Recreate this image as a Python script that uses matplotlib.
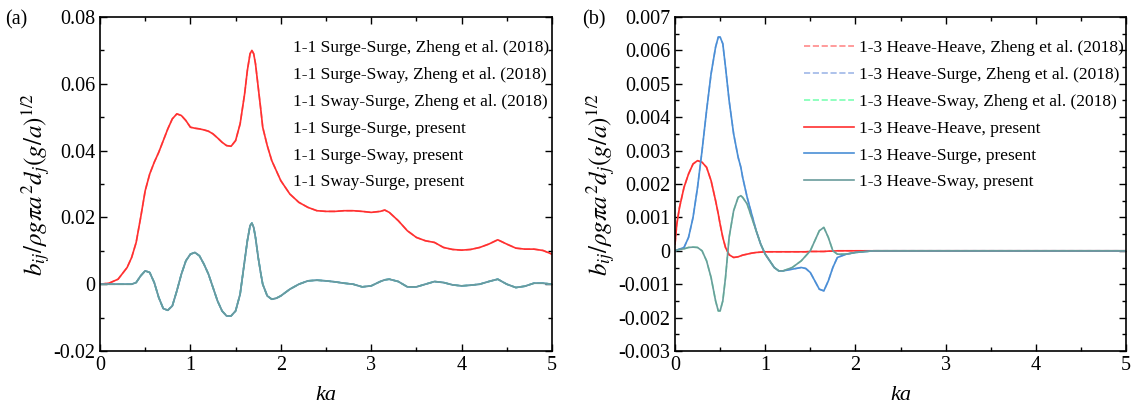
import matplotlib
matplotlib.use("Agg")
import matplotlib.pyplot as plt
from matplotlib.ticker import MultipleLocator, FuncFormatter

plt.rcParams['font.family'] = ['Liberation Serif', 'DejaVu Serif']
plt.rcParams['mathtext.fontset'] = 'stix'

# ---- (a) 1-1 surge / sway damping ----
ka_a = [0.0, 0.1, 0.2, 0.3, 0.35, 0.4, 0.45, 0.5, 0.55, 0.6, 0.65, 0.7, 0.75, 0.8, 0.85,
        0.9, 0.95, 1.0, 1.05, 1.1, 1.15, 1.2, 1.25, 1.3, 1.35, 1.4, 1.45, 1.5, 1.55, 1.6,
        1.63, 1.66, 1.68, 1.7, 1.72, 1.75, 1.78, 1.8, 1.85, 1.9, 1.95, 2.0, 2.1, 2.2, 2.3,
        2.4, 2.5, 2.6, 2.7, 2.8, 2.9, 3.0, 3.1, 3.15, 3.2, 3.3, 3.4, 3.5, 3.6, 3.7, 3.8,
        3.9, 4.0, 4.1, 4.2, 4.3, 4.4, 4.5, 4.6, 4.7, 4.8, 4.9, 5.0]
surge_surge = [0.0, 0.0003, 0.0015, 0.005, 0.008, 0.0125, 0.020, 0.028, 0.033, 0.0365, 0.0395,
               0.043, 0.0465, 0.0495, 0.051, 0.0505, 0.049, 0.047, 0.0467, 0.0465, 0.0462,
               0.0458, 0.045, 0.0438, 0.0425, 0.0415, 0.0413, 0.043, 0.048, 0.057, 0.064,
               0.069, 0.070, 0.069, 0.066, 0.059, 0.052, 0.047, 0.0415, 0.037, 0.034, 0.031,
               0.027, 0.0245, 0.023, 0.022, 0.0218, 0.0218, 0.022, 0.022, 0.0218, 0.0215,
               0.0218, 0.0222, 0.0215, 0.019, 0.016, 0.014, 0.013, 0.0125, 0.011, 0.0104,
               0.0102, 0.0104, 0.011, 0.012, 0.0133, 0.012, 0.0108, 0.0105, 0.0105, 0.0101,
               0.009]
surge_sway = [0.0, 0.0, 0.0, 0.0, 0.0, 0.0005, 0.0025, 0.004, 0.0035, 0.0005, -0.004,
              -0.0073, -0.0078, -0.0065, -0.002, 0.003, 0.007, 0.009, 0.0095, 0.0085, 0.006,
              0.003, -0.001, -0.005, -0.008, -0.0095, -0.0095, -0.008, -0.003, 0.007, 0.013,
              0.0175, 0.0183, 0.017, 0.014, 0.008, 0.003, 0.0, -0.0035, -0.0045, -0.0042,
              -0.0035, -0.0015, 0.0, 0.001, 0.0012, 0.001, 0.0007, 0.0003, 0.0, -0.0008,
              -0.0005, 0.0008, 0.0013, 0.0015, 0.0008, -0.0008, -0.0008, 0.0, 0.0008, 0.0005,
              -0.0002, -0.0005, -0.0003, 0.0, 0.0008, 0.0015, 0.0, -0.001, -0.0006, 0.0003,
              0.0003, 0.0]
sway_surge = surge_sway

labels_a = ['1-1 Surge-Surge, Zheng et al. (2018)', '1-1 Surge-Sway, Zheng et al. (2018)',
            '1-1 Sway-Surge, Zheng et al. (2018)', '1-1 Surge-Surge, present',
            '1-1 Surge-Sway, present', '1-1 Sway-Surge, present']

# ---- (b) 1-3 heave coupling damping ----
ka_b = [0.0, 0.02, 0.05, 0.1, 0.15, 0.2, 0.25, 0.3, 0.35, 0.4, 0.45, 0.48, 0.5, 0.53, 0.56,
        0.6, 0.65, 0.7, 0.73, 0.75, 0.8, 0.85, 0.9, 0.95, 1.0, 1.05, 1.1, 1.15, 1.2, 1.3,
        1.4, 1.45, 1.5, 1.55, 1.6, 1.65, 1.7, 1.75, 1.8, 1.9, 2.0, 2.2, 2.5, 3.0, 4.0, 5.0]
heave_heave = [0.0002, 0.0008, 0.0013, 0.0019, 0.0023, 0.0026, 0.0027, 0.00265, 0.0025,
               0.0021, 0.0015, 0.0011, 0.0008, 0.0004, 0.0001, -0.00012, -0.0002, -0.00018,
               -0.00015, -0.00013, -0.0001, -0.00007, -0.00005, -0.00004, -0.00003, -0.00003,
               -0.00003, -0.00003, -0.00003, -0.00003, -0.00003, -0.00003, -0.00002, -0.00002,
               -0.00002, -0.00002, -0.00001, -0.00001, 0.0, 0.0, 0.0, 0.0, 0.0, 0.0, 0.0, 0.0]
heave_surge = [0.0, 0.00002, 0.00005, 0.0001, 0.0004, 0.001, 0.0019, 0.003, 0.0042, 0.0053,
               0.0061, 0.0064, 0.0064, 0.0062, 0.0055, 0.0045, 0.0035, 0.0028, 0.0025,
               0.0022, 0.0016, 0.0011, 0.0006, 0.0002, -0.0001, -0.0003, -0.0005, -0.0006,
               -0.0006, -0.00055, -0.0005, -0.00053, -0.00065, -0.0009, -0.00115, -0.0012,
               -0.0009, -0.0005, -0.0002, -0.0001, -0.00005, 0.0, 0.0, 0.0, 0.0, 0.0]
heave_sway = [0.0, 0.00002, 0.00004, 0.00006, 0.0001, 0.00011, 0.0001, 0.0, -0.0003, -0.0008,
              -0.0015, -0.0018, -0.0018, -0.0015, -0.0008, 0.0004, 0.0012, 0.0016, 0.00165,
              0.0016, 0.0014, 0.001, 0.0006, 0.0002, -0.0001, -0.0003, -0.0005, -0.0006,
              -0.0006, -0.0005, -0.0003, -0.00015, 0.0, 0.0003, 0.0006, 0.0007, 0.0004, 0.0,
              -0.0001, -0.0001, -0.00005, 0.0, 0.0, 0.0, 0.0, 0.0]

labels_b = ['1-3 Heave-Heave, Zheng et al. (2018)', '1-3 Heave-Surge, Zheng et al. (2018)',
            '1-3 Heave-Sway, Zheng et al. (2018)', '1-3 Heave-Heave, present',
            '1-3 Heave-Surge, present', '1-3 Heave-Sway, present']

red, blue, teal = '#ff3030', '#4a8fd6', '#6a9c9c'
red_d, blue_d, green_d = '#ff8a8a', '#a0b8e8', '#7dffb4'

ylabel = r'$b_{ij}/\rho g\pi a^2 d_j(g/a)^{1/2}$'

fig = plt.figure(figsize=(11.33, 4.07), dpi=100)
ax1 = fig.add_axes([100 / 1133, 1 - 351 / 407, 452 / 1133, 334 / 407])
ax2 = fig.add_axes([675 / 1133, 1 - 351 / 407, 451 / 1133, 334 / 407])

lw = 1.2
ax1.plot(ka_a, surge_surge, '--', color=red_d, lw=lw, label=labels_a[0])
ax1.plot(ka_a, surge_sway, '--', color=blue_d, lw=lw, label=labels_a[1])
ax1.plot(ka_a, sway_surge, '--', color=green_d, lw=lw, label=labels_a[2])
ax1.plot(ka_a, surge_surge, color=red, lw=lw, label=labels_a[3])
ax1.plot(ka_a, surge_sway, color=blue, lw=lw, label=labels_a[4])
ax1.plot(ka_a, sway_surge, color=teal, lw=lw, label=labels_a[5])

ax2.plot(ka_b, heave_heave, '--', color=red_d, lw=lw, label=labels_b[0])
ax2.plot(ka_b, heave_surge, '--', color=blue_d, lw=lw, label=labels_b[1])
ax2.plot(ka_b, heave_sway, '--', color=green_d, lw=lw, label=labels_b[2])
ax2.plot(ka_b, heave_heave, color=red, lw=lw, label=labels_b[3])
ax2.plot(ka_b, heave_surge, color=blue, lw=lw, label=labels_b[4])
ax2.plot(ka_b, heave_sway, color=teal, lw=lw, label=labels_b[5])

fmt = FuncFormatter(lambda v, p: '%g' % round(v, 6))
for ax, ylim, ymaj in [(ax1, (-0.02, 0.08), 0.02), (ax2, (-0.003, 0.007), 0.001)]:
    ax.set_xlim(0, 5)
    ax.set_ylim(*ylim)
    ax.xaxis.set_major_locator(MultipleLocator(1))
    ax.xaxis.set_minor_locator(MultipleLocator(0.5))
    ax.yaxis.set_major_locator(MultipleLocator(ymaj))
    ax.yaxis.set_minor_locator(MultipleLocator(ymaj / 2))
    ax.xaxis.set_major_formatter(fmt)
    ax.yaxis.set_major_formatter(fmt)
    ax.tick_params(which='both', direction='in', top=True, right=True, labelsize=14.5)
    ax.tick_params(which='major', length=5, width=1)
    ax.tick_params(which='minor', length=3, width=1)
    for s in ax.spines.values():
        s.set_linewidth(1.2)
    ax.set_xlabel('ka', fontsize=16, style='italic', labelpad=8)
    ax.set_ylabel(ylabel, fontsize=18, labelpad=0)

ax1.legend(loc='upper left', bbox_to_anchor=(284 / 1133, 1 - 31 / 407),
           bbox_transform=fig.transFigure, frameon=False, fontsize=12.5,
           handlelength=0, handletextpad=0, borderpad=0, labelspacing=0.62)
ax2.legend(loc='upper left', bbox_to_anchor=(795 / 1133, 1 - 31 / 407),
           bbox_transform=fig.transFigure, frameon=False, fontsize=12.5,
           handlelength=2.9, handletextpad=0.3, borderpad=0, labelspacing=0.62)

fig.text(5 / 1133, 1 - 20 / 407, '(a)', fontsize=14.5, va='center')
fig.text(582 / 1133, 1 - 20 / 407, '(b)', fontsize=14.5, va='center')

fig.savefig('out.png', dpi=100)
